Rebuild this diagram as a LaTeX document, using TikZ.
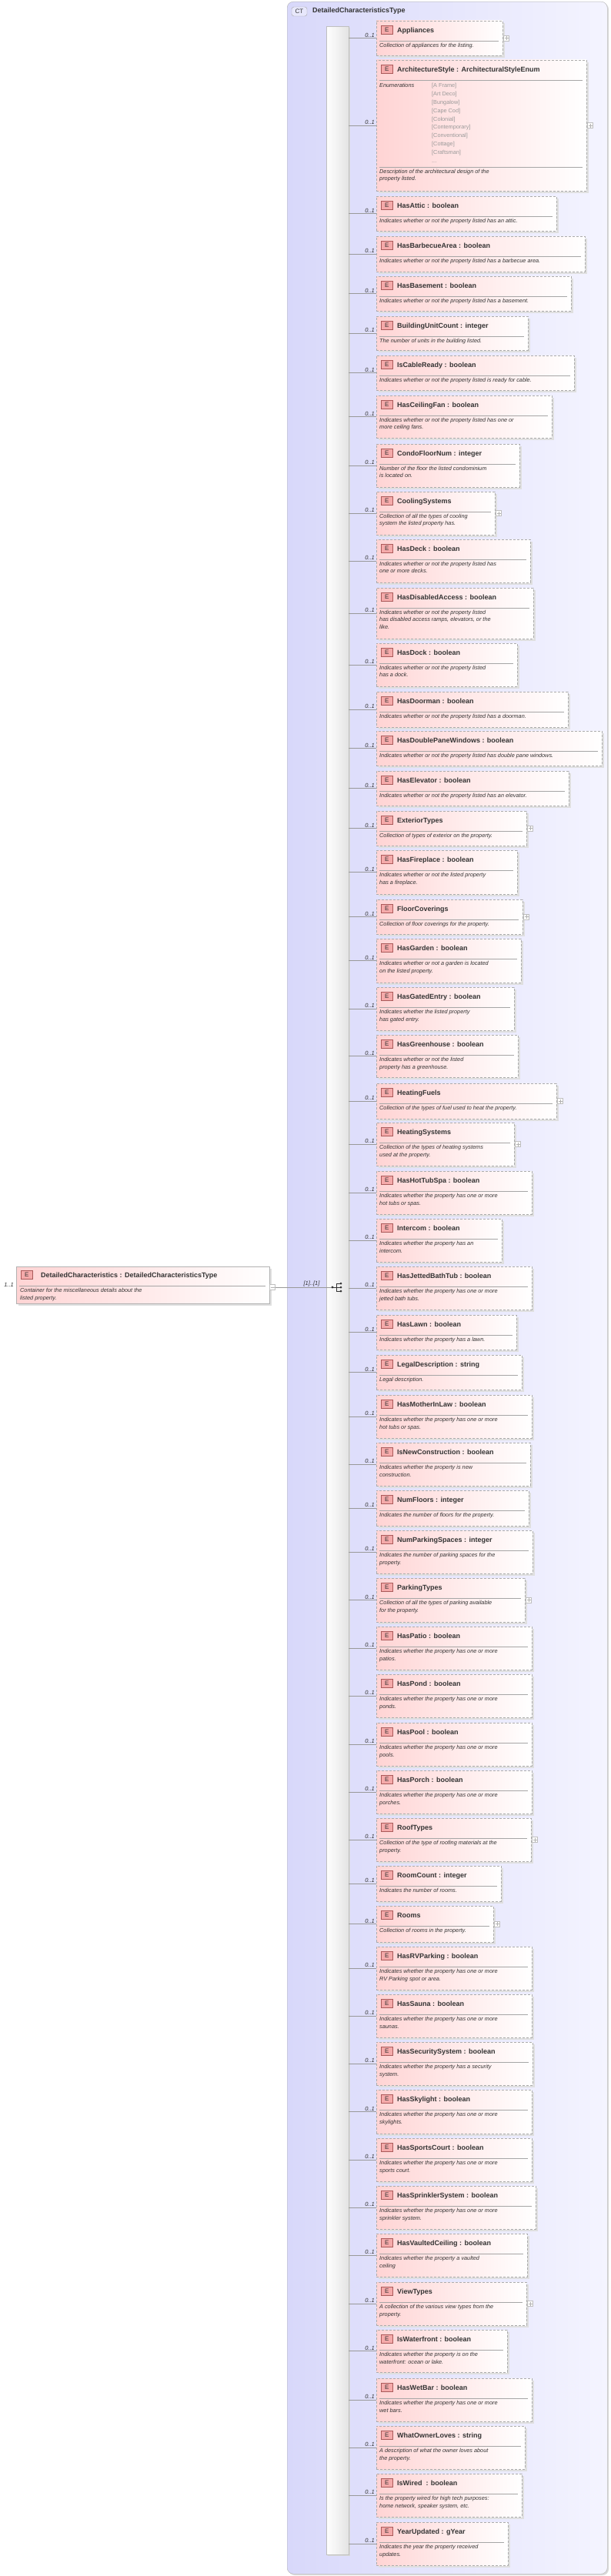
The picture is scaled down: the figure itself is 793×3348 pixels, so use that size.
\documentclass[tikz,border=0pt]{standalone}
\usepackage{fontspec}
\setmainfont{Liberation Sans}
\definecolor{pinkL}{RGB}{255,212,212}
\definecolor{lav}{RGB}{216,216,250}
\definecolor{lavR}{RGB}{244,244,255}
\definecolor{txt}{RGB}{51,51,51}
\tikzset{
 ebox/.style={draw=gray!65,dash pattern=on 3pt off 2pt,left color=pinkL,right color=white,inner sep=0pt,outer sep=0pt},
 badge/.style={draw={rgb,255:red,170;green,90;blue,90},fill={rgb,255:red,245;green,170;blue,170},minimum width=15pt,minimum height=11pt,inner sep=0pt,font=\fontsize{8}{8}\selectfont,text=txt},
 ttl/.style={font=\bfseries\fontsize{9}{9}\selectfont,text=txt,inner sep=0pt},
 dsc/.style={font=\itshape\fontsize{7.3}{9.5}\selectfont,text=txt,align=left,inner sep=0pt},
 mult/.style={font=\itshape\fontsize{7.5}{7.5}\selectfont,text=txt,inner sep=1pt},
 conn/.style={draw=gray!80,line width=0.6pt},
 pbox/.style={draw=gray!50,fill=white,minimum size=7pt,inner sep=0pt},
}
\newcommand\el[7]{%
 \pgfmathsetmacro\elmid{(#2+#3)/2}%
 \fill[gray!25] (492,#2+3) rectangle (#4+3,#3+3);
 \node[ebox,anchor=north west,minimum width={#4pt-489pt},minimum height={#3pt-#2pt}] (#1) at (489,#2) {};
 \node[badge,anchor=west] (b#1) at (495,#2+12) {E};
 \node[ttl,anchor=base west] (t#1) at (516,#2+15.5) {#5};
 \draw[gray!70] (493,#2+26) -- (#4-5,#2+26);
 \node[dsc,anchor=north west] (d#1) at (493,#2+29) {#6};
 \coordinate (c#1) at (453,\elmid);
 \draw[conn] (c#1) -- (#1.west);
 \node[mult,anchor=south east] (m#1) at (488,\elmid) {0..1};
 \ifnum#7=1
  \node[pbox] (p#1) at (#4+5,\elmid) {};
  \draw[gray!60] (#4+2.5,\elmid) -- (#4+7.5,\elmid) (#4+5,\elmid-2.5) -- (#4+5,\elmid+2.5);
 \fi
}
\begin{document}
\begin{tikzpicture}[x=1pt,y=-1pt]
\useasboundingbox (0,0) rectangle (793,3348);
% complex type frame
\fill[gray!30,rounded corners=8pt] (375,4) rectangle (791,3347);
\node[draw=gray!60,rounded corners=8pt,left color=lav,right color=lavR,minimum width=416pt,minimum height=3343pt,anchor=north west,inner sep=0pt] (ct) at (373,2) {};
\node[draw=gray!70,rounded corners=3pt,fill=lav!60,font=\fontsize{8}{8}\selectfont,text=txt,minimum width=20pt,minimum height=12pt,inner sep=0pt] (ctb) at (389,15) {CT};
\node[ttl,anchor=west] (ctt) at (406,14) {DetailedCharacteristicsType};
% spine
\fill[gray!30] (426,36) rectangle (455,3322);
\node[draw=gray!50,left color=white,right color=gray!22,anchor=north west,minimum width=29pt,minimum height=3286pt,inner sep=0pt] (sp) at (424,34) {};
% root element
\fill[gray!25] (24,1649) rectangle (353,1697);
\node[draw=gray!60,left color=pinkL,right color=white,anchor=north west,minimum width=329pt,minimum height=48pt,inner sep=0pt] (root) at (21,1646) {};
\node[badge,anchor=west] (broot) at (27,1657) {E};
\node[ttl,anchor=base west] (troot) at (53,1660) {DetailedCharacteristics : DetailedCharacteristicsType};
\draw[gray!70] (25,1671) -- (345,1671);
\node[dsc,anchor=north west] (droot) at (26,1674) {Container for the miscellaneous details about the\\listed property.};
\node[mult,anchor=south east] (mroot) at (19,1674) {1..1};
\node[pbox] (proot) at (354,1673) {};
\draw[gray!60] (351.5,1673) -- (356.5,1673);
\coordinate (seq) at (432,1673);
\draw[conn] (proot.east) -- (seq);
\node[mult,anchor=south] (mseq) at (405,1673) {[1]..[1]};
% sequence icon
\fill[txt] (seq) circle (1.6pt);
\draw[txt,line width=0.7pt] (432,1673) -- (437,1673) (437,1668) -- (437,1678) (437,1668) -- (443,1668) (437,1673) -- (443,1673) (437,1678) -- (443,1678);
\fill[txt] (443,1668) circle (1.5pt) (443,1673) circle (1.5pt) (443,1678) circle (1.5pt);
% elements
\el{e1}{27}{72}{653}{Appliances}{Collection of appliances for the listing.}{1}
\el{e2}{78}{248}{762}{ArchitectureStyle : ArchitecturalStyleEnum}{}{1}
\node[dsc,anchor=north west] (enh) at (493,108) {Enumerations};
\node[dsc,font=\fontsize{7.3}{10.9}\selectfont,text=gray!80,anchor=north west] (env) at (561,108) {{[A Frame]}\\{[Art Deco]}\\{[Bungalow]}\\{[Cape Cod]}\\{[Colonial]}\\{[Contemporary]}\\{[Conventional]}\\{[Cottage]}\\{[Craftsman]}\\{...}};
\draw[gray!70] (493,217) -- (757,217);
\node[dsc,anchor=north west] (ard) at (493,220) {Description of the architectural design of the\\property listed.};
\el{e3}{255}{300}{723}{HasAttic : boolean}{Indicates whether or not the property listed has an attic.}{0}
\el{e4}{307}{353}{760}{HasBarbecueArea : boolean}{Indicates whether or not the property listed has a barbecue area.}{0}
\el{e5}{359}{404}{742}{HasBasement : boolean}{Indicates whether or not the property listed has a basement.}{0}
\el{e6}{411}{455}{686}{BuildingUnitCount : integer}{The number of units in the building listed.}{0}
\el{e7}{462}{507}{746}{IsCableReady : boolean}{Indicates whether or not the property listed is ready for cable.}{0}
\el{e8}{514}{569}{717}{HasCeilingFan : boolean}{Indicates whether or not the property listed has one or\\more ceiling fans.}{0}
\el{e9}{577}{633}{675}{CondoFloorNum : integer}{Number of the floor the listed condominium\\is located on.}{0}
\el{e10}{639}{695}{643}{CoolingSystems}{Collection of all the types of cooling\\system the listed property has.}{1}
\el{e11}{701}{757}{689}{HasDeck : boolean}{Indicates whether or not the property listed has\\one or more decks.}{0}
\el{e12}{764}{830}{693}{HasDisabledAccess : boolean}{Indicates whether or not the property listed\\has disabled access ramps, elevators, or the\\like.}{0}
\el{e13}{836}{892}{672}{HasDock : boolean}{Indicates whether or not the property listed\\has a dock.}{0}
\el{e14}{899}{945}{738}{HasDoorman : boolean}{Indicates whether or not the property listed has a doorman.}{0}
\el{e15}{950}{995}{782}{HasDoublePaneWindows : boolean}{Indicates whether or not the property listed has double pane windows.}{0}
\el{e16}{1002}{1047}{739}{HasElevator : boolean}{Indicates whether or not the property listed has an elevator.}{0}
\el{e17}{1054}{1099}{684}{ExteriorTypes}{Collection of types of exterior on the property.}{1}
\el{e18}{1105}{1162}{672}{HasFireplace : boolean}{Indicates whether or not the listed property\\has a fireplace.}{0}
\el{e19}{1169}{1214}{679}{FloorCoverings}{Collection of floor coverings for the property.}{1}
\el{e20}{1220}{1277}{677}{HasGarden : boolean}{Indicates whether or not a garden is located\\on the listed property.}{0}
\el{e21}{1283}{1339}{668}{HasGatedEntry : boolean}{Indicates whether the listed property\\has gated entry.}{0}
\el{e22}{1345}{1400}{673}{HasGreenhouse : boolean}{Indicates whether or not the listed\\property has a greenhouse.}{0}
\el{e23}{1408}{1454}{723}{HeatingFuels}{Collection of the types of fuel used to heat the property.}{1}
\el{e24}{1459}{1515}{668}{HeatingSystems}{Collection of the types of heating systems\\used at the property.}{1}
\el{e25}{1522}{1578}{691}{HasHotTubSpa : boolean}{Indicates whether the property has one or more\\hot tubs or spas.}{0}
\el{e26}{1584}{1640}{652}{Intercom : boolean}{Indicates whether the property has an\\intercom.}{0}
\el{e27}{1646}{1702}{691}{HasJettedBathTub : boolean}{Indicates whether the property has one or more\\jetted bath tubs.}{0}
\el{e28}{1709}{1754}{671}{HasLawn : boolean}{Indicates whether the property has a lawn.}{0}
\el{e29}{1761}{1806}{678}{LegalDescription : string}{Legal description.}{0}
\el{e30}{1813}{1869}{691}{HasMotherInLaw : boolean}{Indicates whether the property has one or more\\hot tubs or spas.}{0}
\el{e31}{1875}{1931}{689}{IsNewConstruction : boolean}{Indicates whether the property is new\\construction.}{0}
\el{e32}{1937}{1983}{687}{NumFloors : integer}{Indicates the number of floors for the property.}{0}
\el{e33}{1989}{2045}{692}{NumParkingSpaces : integer}{Indicates the number of parking spaces for the\\property.}{0}
\el{e34}{2051}{2108}{682}{ParkingTypes}{Collection of all the types of parking available\\for the property.}{1}
\el{e35}{2114}{2170}{691}{HasPatio : boolean}{Indicates whether the property has one or more\\patios.}{0}
\el{e36}{2176}{2232}{691}{HasPond : boolean}{Indicates whether the property has one or more\\ponds.}{0}
\el{e37}{2239}{2295}{691}{HasPool : boolean}{Indicates whether the property has one or more\\pools.}{0}
\el{e38}{2301}{2357}{691}{HasPorch : boolean}{Indicates whether the property has one or more\\porches.}{0}
\el{e39}{2363}{2419}{690}{RoofTypes}{Collection of the type of roofing materials at the\\property.}{1}
\el{e40}{2425}{2471}{651}{RoomCount : integer}{Indicates the number of rooms.}{0}
\el{e41}{2477}{2524}{641}{Rooms}{Collection of rooms in the property.}{1}
\el{e42}{2530}{2586}{691}{HasRVParking : boolean}{Indicates whether the property has one or more\\RV Parking spot or area.}{0}
\el{e43}{2592}{2648}{691}{HasSauna : boolean}{Indicates whether the property has one or more\\saunas.}{0}
\el{e44}{2654}{2710}{692}{HasSecuritySystem : boolean}{Indicates whether the property has a security\\system.}{0}
\el{e45}{2716}{2773}{691}{HasSkylight : boolean}{Indicates whether the property has one or more\\skylights.}{0}
\el{e46}{2779}{2835}{691}{HasSportsCourt : boolean}{Indicates whether the property has one or more\\sports court.}{0}
\el{e47}{2841}{2897}{696}{HasSprinklerSystem : boolean}{Indicates whether the property has one or more\\sprinkler system.}{0}
\el{e48}{2903}{2959}{685}{HasVaultedCeiling : boolean}{Indicates whether the property a vaulted\\ceiling}{0}
\el{e49}{2966}{3022}{684}{ViewTypes}{A collection of the various view types from the\\property.}{1}
\el{e50}{3028}{3083}{659}{IsWaterfront : boolean}{Indicates whether the property is on the\\waterfront: ocean or lake.}{0}
\el{e51}{3091}{3147}{691}{HasWetBar : boolean}{Indicates whether the property has one or more\\wet bars.}{0}
\el{e52}{3153}{3209}{682}{WhatOwnerLoves : string}{A description of what the owner loves about\\the property.}{0}
\el{e53}{3215}{3271}{678}{IsWired \ : boolean}{Is the property wired for high tech purposes:\\home network, speaker system, etc.}{0}
\el{e54}{3278}{3334}{660}{YearUpdated : gYear}{Indicates the year the property received\\updates.}{0}
\end{tikzpicture}
\end{document}
